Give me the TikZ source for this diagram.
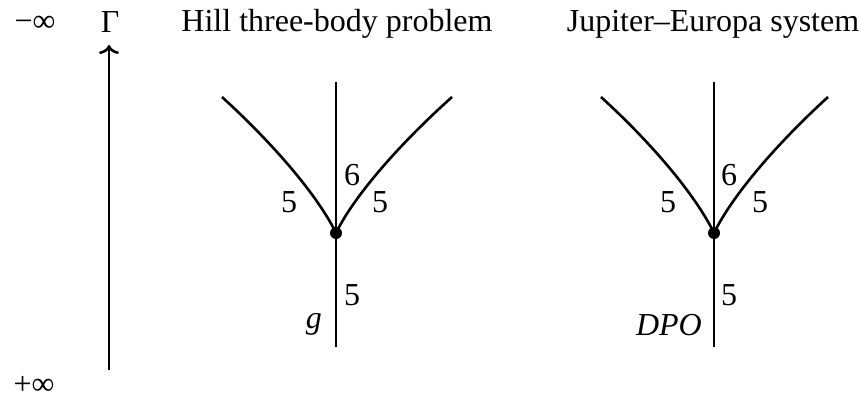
\documentclass[tikz,border=0pt]{standalone}
\usepackage{fontspec}
\setmainfont{Liberation Serif}
\usetikzlibrary{arrows.meta}
\begin{document}
\begin{tikzpicture}[x=1pt,y=-1pt,
  txt/.style={font=\fontsize{32}{38}\selectfont, inner sep=0pt},
  edge/.style={line width=2.6pt},
  vertex/.style={circle, fill, inner sep=0pt, minimum size=12pt}]
\useasboundingbox (0,0) rectangle (861,404);
% axis
\node[txt, anchor=base] (minf) at (35,32) {−∞};
\node[txt, anchor=base] (pinf) at (34,394) {+∞};
\node[txt, anchor=base] (gam) at (110,33) {Γ};
\coordinate (abot) at (109,370);
\coordinate (atop) at (109,45);
\draw[edge, -{To[length=9pt,width=20pt]}] (abot) -- (atop);
% titles
\node[txt, anchor=base] (t1) at (337,32) {Hill three-body problem};
\node[txt, anchor=base] (t2) at (713,32) {Jupiter–Europa system};
% left tree
\node[vertex] (v1) at (336,233) {};
\coordinate (v1top) at (336,82);
\coordinate (v1bot) at (336,347);
\coordinate (v1l) at (222,97);
\coordinate (v1r) at (452,97);
\draw[edge] (v1.center) -- (v1top);
\draw[edge] (v1.center) -- (v1bot);
\draw[edge] (v1.center) .. controls (320,200) and (280,150) .. (v1l);
\draw[edge] (v1.center) .. controls (352,200) and (393,150) .. (v1r);
\node[txt] (l6a) at (352,175) {6};
\node[txt] (l5aL) at (289,202) {5};
\node[txt] (l5aR) at (380,202) {5};
\node[txt] (l5aB) at (352,295) {5};
\node[txt, anchor=base east] (g) at (322,328) {\itshape g};
% right tree
\node[vertex] (v2) at (714,233) {};
\coordinate (v2top) at (714,82);
\coordinate (v2bot) at (714,347);
\coordinate (v2l) at (601,97);
\coordinate (v2r) at (828,97);
\draw[edge] (v2.center) -- (v2top);
\draw[edge] (v2.center) -- (v2bot);
\draw[edge] (v2.center) .. controls (698,200) and (659,150) .. (v2l);
\draw[edge] (v2.center) .. controls (730,200) and (770,150) .. (v2r);
\node[txt] (l6b) at (729,175) {6};
\node[txt] (l5bL) at (668,202) {5};
\node[txt] (l5bR) at (760,202) {5};
\node[txt] (l5bB) at (729,295) {5};
\node[txt, anchor=base east] (dpo) at (702,335) {\itshape DPO};
\end{tikzpicture}
\end{document}
